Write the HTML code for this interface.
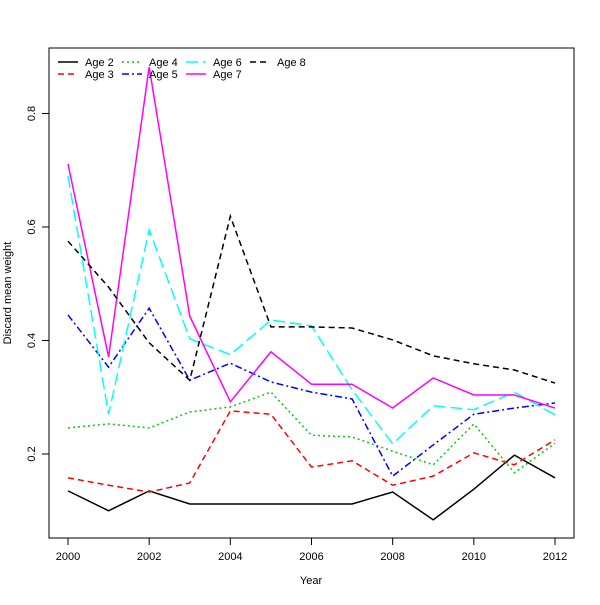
<!DOCTYPE html>
<html><head><meta charset="utf-8"><style>
body{margin:0;background:#fff;font-family:"Liberation Sans",sans-serif}
svg text{font-family:"Liberation Sans",sans-serif;font-size:11px;fill:#000}
</style></head><body>
<svg id="chart" width="600" height="600" xmlns="http://www.w3.org/2000/svg"></svg>
<script>
const years=[2000,2001,2002,2003,2004,2005,2006,2007,2008,2009,2010,2011,2012];
const age2=[0.135,0.100,0.135,0.112,0.112,0.112,0.112,0.112,0.133,0.084,0.138,0.198,0.158];
const age3=[0.158,0.145,0.133,0.149,0.276,0.270,0.177,0.188,0.145,0.161,0.202,0.181,0.225];
const age4=[0.246,0.253,0.246,0.274,0.283,0.309,0.233,0.230,0.205,0.181,0.253,0.167,0.219];
const age5=[0.445,0.353,0.457,0.330,0.360,0.327,0.309,0.297,0.161,0.216,0.270,0.281,0.290];
const age6=[0.690,0.270,0.595,0.403,0.375,0.436,0.426,0.313,0.218,0.285,0.278,0.309,0.269];
const age7=[0.711,0.371,0.882,0.443,0.292,0.380,0.323,0.323,0.281,0.334,0.304,0.304,0.281];
const age8=[0.575,0.494,0.396,0.330,0.619,0.424,0.424,0.422,0.401,0.373,0.359,0.348,0.325];
const xTicks=[2000,2002,2004,2006,2008,2010,2012];
const yTicks=[0.2,0.4,0.6,0.8];
const seriesNames=["Age 2","Age 3","Age 4","Age 5","Age 6","Age 7","Age 8"];
const series=[age2,age3,age4,age5,age6,age7,age8];
const colors=["#000","#f00","#0c0","#00f","#0ff","#f0f","#000"];
const dashes=["","6,4","2,3","7,3,2,3","12,5","","6,4"];
const NS="http://www.w3.org/2000/svg";
const svg=document.getElementById('chart');
const X=v=>68+(v-2000)*(555-68)/12;
const Y=v=>454-(v-0.2)*567.5;
function mk(t,a){const e=document.createElementNS(NS,t);for(const k in a)e.setAttribute(k,a[k]);svg.appendChild(e);return e;}
let r=mk('rect',{x:49,y:48,width:525,height:490,fill:'none',stroke:'#000'});


xTicks.forEach(t=>{
 let l=mk('line',{x1:X(t),x2:X(t),y1:538,y2:545,stroke:'#000'});
 
 
 let tx=mk('text',{x:X(t),y:560,'text-anchor':'middle'});tx.textContent=t;
 
 
});
yTicks.forEach(t=>{
 let l=mk('line',{x1:42,x2:49,y1:Y(t),y2:Y(t),stroke:'#000'});
 
 
 let tx=mk('text',{x:35,y:Y(t),'text-anchor':'middle',transform:`rotate(-90 35 ${Y(t)})`});tx.textContent=t.toFixed(1);
 
 
});
let xt=mk('text',{x:311,y:584,'text-anchor':'middle'});xt.textContent='Year';


let yt=mk('text',{x:11,y:293,'text-anchor':'middle',transform:'rotate(-90 11 293)'});yt.textContent='Discard mean weight';


series.forEach((s,i)=>{
 let p=mk('polyline',{points:s.map((v,j)=>X(years[j])+','+Y(v)).join(' '),fill:'none',stroke:colors[i],'stroke-width':1.5,'stroke-dasharray':dashes[i]});
 
 
});
const legX=[58,122,186,250],legY=[62,74];
seriesNames.forEach((n,i)=>{
 const c=i>>1,rr=i&1;
 const lx=legX[c],ly=legY[rr];
 let l=mk('line',{x1:lx,x2:lx+20,y1:ly,y2:ly,stroke:colors[i],'stroke-width':1.5,'stroke-dasharray':dashes[i]});
 
 
 let t=mk('text',{x:lx+27,y:ly+4});t.textContent=n;
 
 
});
</script>
</body></html>
